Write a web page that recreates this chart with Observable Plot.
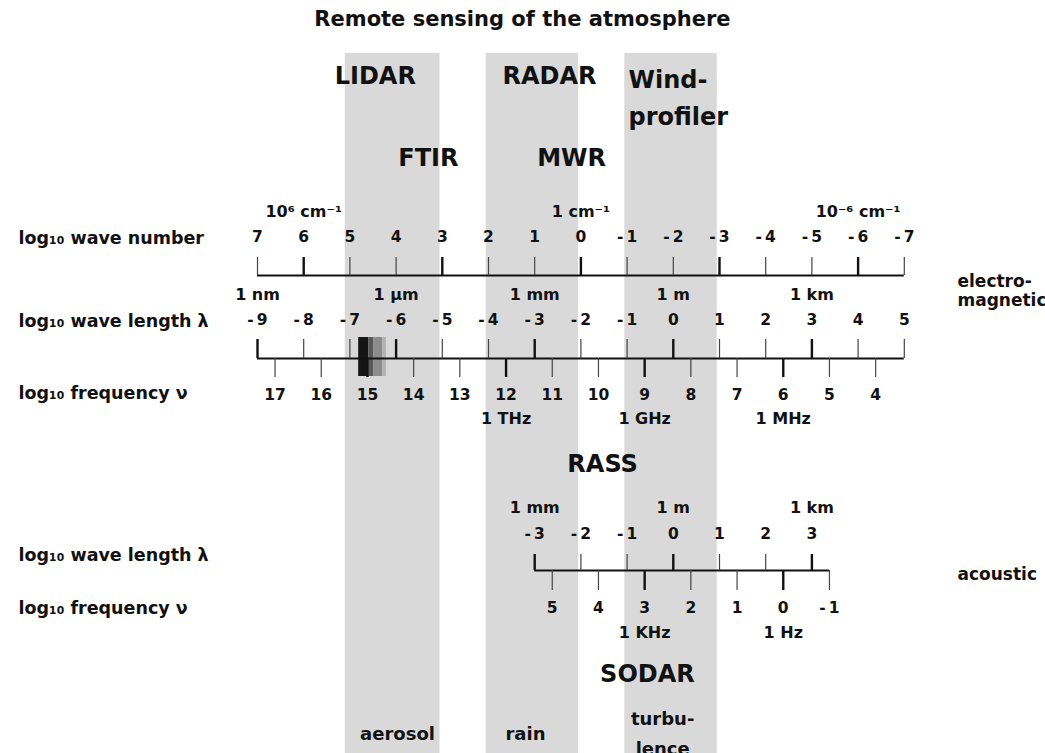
<!DOCTYPE html>
<html>
<head>
<meta charset="utf-8">
<script src="https://cdn.jsdelivr.net/npm/d3@7"></script>
<script src="https://cdn.jsdelivr.net/npm/@observablehq/plot@0.6"></script>
<style>
  body { margin: 0; background: #fff; }
  #title {
    box-sizing: border-box; width: 1045px; height: 40px; padding-top: 7px;
    line-height: 28px; text-align: center;
    font: bold 21px "DejaVu Sans", sans-serif; color: #111;
  }
</style>
</head>
<body>
<div id="title">Remote sensing of the atmosphere</div>
<div id="chart"></div>
<script>
// ---- data -------------------------------------------------------------
// electromagnetic spectrum: log10 wave number [cm^-1]
const waveNumberTicks = [7, 6, 5, 4, 3, 2, 1, 0, -1, -2, -3, -4, -5, -6, -7];
const waveNumberUnits = [
  {value: 6, label: "10⁶ cm⁻¹"},
  {value: 0, label: "1 cm⁻¹"},
  {value: -6, label: "10⁻⁶ cm⁻¹"}
];
// log10 wave length [m]
const emWavelengthTicks = [-9, -8, -7, -6, -5, -4, -3, -2, -1, 0, 1, 2, 3, 4, 5];
const emWavelengthUnits = [
  {value: -9, label: "1 nm"},
  {value: -6, label: "1 µm"},
  {value: -3, label: "1 mm"},
  {value: 0, label: "1 m"},
  {value: 3, label: "1 km"}
];
// log10 frequency [Hz]
const emFrequencyTicks = [17, 16, 15, 14, 13, 12, 11, 10, 9, 8, 7, 6, 5, 4];
const emFrequencyUnits = [
  {value: 12, label: "1 THz"},
  {value: 9, label: "1 GHz"},
  {value: 6, label: "1 MHz"}
];
// acoustic spectrum
const acWavelengthTicks = [-3, -2, -1, 0, 1, 2, 3];
const acWavelengthUnits = [
  {value: -3, label: "1 mm"},
  {value: 0, label: "1 m"},
  {value: 3, label: "1 km"}
];
const acFrequencyTicks = [5, 4, 3, 2, 1, 0, -1];
const acFrequencyUnits = [
  {value: 3, label: "1 KHz"},
  {value: 0, label: "1 Hz"}
];
// log10 of propagation speed [m/s] tying frequency to wave length
const logLightSpeed = 8.38;
const logSoundSpeed = 2.38;

// wave length ranges (log10 m) probed by the instrument groups
const bands = [
  {from: -7.1, to: -5.05},
  {from: -4.05, to: -2.05},
  {from: -1.05, to: 0.95}
];
// visible light block on the wave length axis (lightness 0 = black)
const visibleStripes = [
  {from: -6.81, to: -6.59, lightness: 8},
  {from: -6.59, to: -6.48, lightness: 35},
  {from: -6.48, to: -6.29, lightness: 55},
  {from: -6.29, to: -6.21, lightness: 70}
];
const instruments = ["LIDAR", "RADAR", "Wind-\nprofiler", "FTIR", "MWR", "RASS", "SODAR"];
const targets = ["aerosol", "rain", "turbu-\nlence"];
const rowLabels = ["log₁₀ wave number", "log₁₀ wave length λ", "log₁₀ frequency ν",
                   "log₁₀ wave length λ", "log₁₀ frequency ν"];
const spectra = ["electro-\nmagnetic", "acoustic"];

// ---- layout -----------------------------------------------------------
const W = 1045, TOP = 40, H = 753 - TOP;
const PX = 46.2, X0 = 257;               // pixels per decade, position of 1 nm
const xDomain = [-9 - X0 / PX, -9 + (W - X0) / PX];
const row = {
  bandTop: 53, bottom: 753,
  wnUnit: 211, wnLabel: 237, wnTick: 257, wnAxis: 275,
  wlUnit: 294, wlLabel: 320, wlTick: 339, emAxis: 358, fTick: 377, fLabel: 395, fUnit: 418,
  visTop: 337, visBottom: 376,
  aUnit: 507, aLabel: 534, aTick: 554, aAxis: 570, afTick: 590, afLabel: 608, afUnit: 632
};
// annotation anchors: wave length (log10 m) and row
const instrumentAt = [
  {x: -6.45, y: 76, anchor: "middle"},
  {x: -2.68, y: 76, anchor: "middle"},
  {x: -0.97, y: 94.5, anchor: "start"},
  {x: -5.30, y: 158, anchor: "middle"},
  {x: -2.20, y: 158, anchor: "middle"},
  {x: -1.53, y: 464, anchor: "middle"},
  {x: -0.56, y: 674, anchor: "middle"}
];
const targetAt = [-5.97, -3.20, -0.23];
const rowLabelY = [238, 321, 393, 555, 608];
const spectrumAt = [{y: 290, dx: 957}, {y: 574, dx: 955}];

const fmt = v => v < 0 ? "-\u2009" + (-v) : String(v);
const isMajor = v => Math.abs(v) % 3 === 0;
const wnToLambda = n => -n - 2;
const emFreqToLambda = f => logLightSpeed - f;
const acFreqToLambda = f => logSoundSpeed - f;

const bold = {fontWeight: "bold", fill: "#111"};
const tickMajor = {stroke: "#111", strokeWidth: 2.4};
const tickMinor = {stroke: "#444", strokeWidth: 1.2};

function tickRules(values, toX, y1, y2) {
  return [
    Plot.ruleX(values.filter(v => isMajor(v)), {x: toX, y1, y2, ...tickMajor}),
    Plot.ruleX(values.filter(v => !isMajor(v)), {x: toX, y1, y2, ...tickMinor})
  ];
}

const chart = Plot.plot({
  width: W, height: H, margin: 0,
  x: {domain: xDomain, range: [0, W], axis: null},
  y: {domain: [TOP, 753], range: [0, H], axis: null},
  color: {type: "linear", domain: [0, 100], range: ["black", "white"]},
  style: {fontFamily: '"DejaVu Sans", sans-serif', background: "white", color: "#111"},
  marks: [
    // instrument bands
    Plot.rect(bands, {x1: "from", x2: "to", y1: row.bandTop, y2: row.bottom, fill: "#d9d9d9", ariaLabel: "bands"}),

    // instrument names
    Plot.text(instruments, {
      x: (d, i) => instrumentAt[i].x, y: (d, i) => instrumentAt[i].y,
      textAnchor: "start", text: d => d, fontSize: 24, lineHeight: 1.54, ...bold,
      filter: (d, i) => instrumentAt[i].anchor === "start"
    }),
    Plot.text(instruments, {
      x: (d, i) => instrumentAt[i].x, y: (d, i) => instrumentAt[i].y,
      text: d => d, fontSize: 24, ...bold,
      filter: (d, i) => instrumentAt[i].anchor === "middle"
    }),

    // wave number scale
    Plot.ruleY([row.wnAxis], {x1: wnToLambda(d3.max(waveNumberTicks)), x2: wnToLambda(d3.min(waveNumberTicks)), strokeWidth: 2.2, stroke: "#111"}),
    ...tickRules(waveNumberTicks, wnToLambda, row.wnTick, row.wnAxis),
    Plot.text(waveNumberTicks, {x: wnToLambda, y: row.wnLabel, text: fmt, fontSize: 15.5, ...bold}),
    Plot.text(waveNumberUnits, {x: d => wnToLambda(d.value), y: row.wnUnit, text: "label", fontSize: 16, ...bold}),

    // electromagnetic wave length / frequency scale
    Plot.rect(visibleStripes, {x1: "from", x2: "to", y1: row.visTop, y2: row.visBottom, fill: "lightness"}),
    Plot.ruleY([row.emAxis], {x1: d3.min(emWavelengthTicks), x2: d3.max(emWavelengthTicks), strokeWidth: 2.2, stroke: "#111"}),
    ...tickRules(emWavelengthTicks, d => d, row.wlTick, row.emAxis),
    ...tickRules(emFrequencyTicks, emFreqToLambda, row.emAxis, row.fTick),
    Plot.text(emWavelengthTicks, {x: d => d, y: row.wlLabel, text: fmt, fontSize: 15.5, ...bold}),
    Plot.text(emWavelengthUnits, {x: "value", y: row.wlUnit, text: "label", fontSize: 16, ...bold}),
    Plot.text(emFrequencyTicks, {x: emFreqToLambda, y: row.fLabel, text: fmt, fontSize: 15.5, ...bold}),
    Plot.text(emFrequencyUnits, {x: d => emFreqToLambda(d.value), y: row.fUnit, text: "label", fontSize: 16, ...bold}),

    // acoustic wave length / frequency scale
    Plot.ruleY([row.aAxis], {x1: d3.min(acWavelengthTicks), x2: acFreqToLambda(d3.min(acFrequencyTicks)), strokeWidth: 2.2, stroke: "#111"}),
    ...tickRules(acWavelengthTicks, d => d, row.aTick, row.aAxis),
    ...tickRules(acFrequencyTicks, acFreqToLambda, row.aAxis, row.afTick),
    Plot.text(acWavelengthTicks, {x: d => d, y: row.aLabel, text: fmt, fontSize: 15.5, ...bold}),
    Plot.text(acWavelengthUnits, {x: "value", y: row.aUnit, text: "label", fontSize: 16, ...bold}),
    Plot.text(acFrequencyTicks, {x: acFreqToLambda, y: row.afLabel, text: fmt, fontSize: 15.5, ...bold}),
    Plot.text(acFrequencyUnits, {x: d => acFreqToLambda(d.value), y: row.afUnit, text: "label", fontSize: 16, ...bold}),

    // what each band senses
    Plot.text(targets, {x: (d, i) => targetAt[i], y: 730, text: d => d, fontSize: 18, lineHeight: 1.67, ...bold}),

    // row and spectrum labels
    Plot.text(rowLabels, {frameAnchor: "left", y: (d, i) => rowLabelY[i], dx: 18, textAnchor: "start", text: d => d, fontSize: 17.5, ...bold}),
    Plot.text(spectra, {frameAnchor: "left", y: (d, i) => spectrumAt[i].y, dx: 957, textAnchor: "start", text: d => d, fontSize: 17, lineHeight: 1.1, ...bold})
  ]
});

// fine dither texture for the bands
const svg = d3.select(chart);
svg.insert("defs", ":first-child").html(
  '<pattern id="band-texture" width="4" height="4" patternUnits="userSpaceOnUse">' +
  '<rect width="4" height="4" fill="#d5d5d5"/>' +
  '<path d="M0,4L4,0M-1,1L1,-1M3,5L5,3" stroke="#e6e6e6" stroke-width="1"/></pattern>'
);
svg.select('g[aria-label="bands"]').attr("fill", "url(#band-texture)");

document.getElementById("chart").appendChild(chart);
</script>
</body>
</html>
